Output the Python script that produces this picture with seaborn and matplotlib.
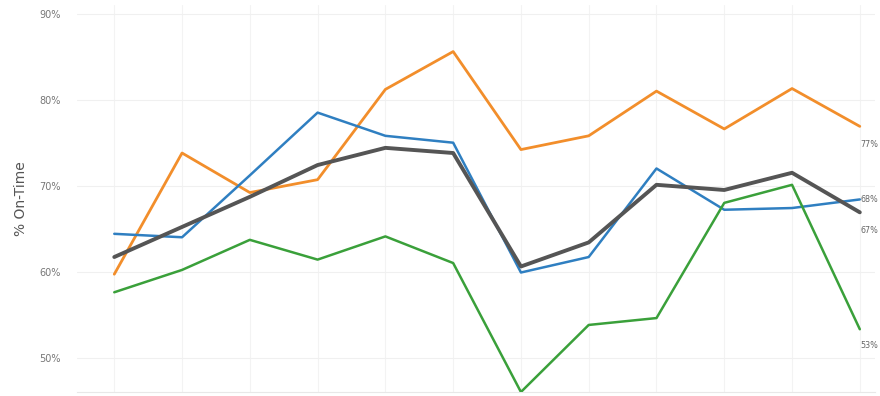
import matplotlib
matplotlib.use("Agg")
import matplotlib.pyplot as plt
import seaborn as sns
import pandas as pd

months = ["Jan", "Feb", "Mar", "Apr", "May", "Jun", "Jul", "Aug", "Sep", "Oct", "Nov", "Dec"]
orange_vals = [59.7, 73.8, 69.2, 70.7, 81.2, 85.6, 74.2, 75.8, 81.0, 76.6, 81.3, 76.9]
blue_vals = [64.4, 64.0, 71.2, 78.5, 75.8, 75.0, 59.9, 61.7, 72.0, 67.2, 67.4, 68.4]
gray_vals = [61.7, 65.2, 68.7, 72.4, 74.4, 73.8, 60.6, 63.4, 70.1, 69.5, 71.5, 66.9]
green_vals = [57.6, 60.2, 63.7, 61.4, 64.1, 61.0, 46.0, 53.8, 54.6, 68.0, 70.1, 53.3]
series_names = ["Carrier A", "Carrier B", "All Carriers", "Carrier C"]
end_labels = ["77%", "68%", "67%", "53%"]
colors = ["#f28e2b", "#2f7fc1", "#555555", "#3aa03a"]

rows = []
for name, vals in zip(series_names, [orange_vals, blue_vals, gray_vals, green_vals]):
    for i, v in enumerate(vals):
        rows.append({"month_idx": i, "month": months[i], "value": v, "series": name})
df = pd.DataFrame(rows)

sns.set_theme(style="white")
plt.rcParams['font.family'] = ['DejaVu Sans']

fig = plt.figure(figsize=(8.8, 3.96), dpi=100)
ax = fig.add_axes([0.0875, 0.0101, 0.9065, 0.9769])

for xi in range(len(months)):
    ax.axvline(xi, color="#f3f3f3", lw=0.8, zorder=0)
for yv in [50, 60, 70, 80, 90]:
    ax.axhline(yv, color="#f0f0f0", lw=0.8, zorder=0)

widths = {"Carrier A": 2.0, "Carrier B": 1.8, "All Carriers": 2.8, "Carrier C": 1.8}
for name, col in zip(series_names, colors):
    sub = df[df["series"] == name]
    sns.lineplot(data=sub, x="month_idx", y="value", color=col, lw=widths[name], ax=ax, legend=False, zorder=3)

offsets = [-13, 0, -13, -12]
for name, lab, off in zip(series_names, end_labels, offsets):
    sub = df[df["series"] == name]
    last = sub.iloc[-1]
    ax.annotate(lab, xy=(last["month_idx"], last["value"]), xytext=(0.5, off), textcoords="offset points",
                fontsize=5.8, color="#666666", va="center", ha="left", annotation_clip=False)

ax.set_xlim(-0.55, 11.22)
ax.set_ylim(46, 91)
ax.set_yticks([50, 60, 70, 80, 90])
ax.set_yticklabels(["50%", "60%", "70%", "80%", "90%"], fontsize=7, color="#777777")
ax.tick_params(axis="y", length=0, pad=12)
ax.set_xticks([])
ax.set_xlabel("")
ax.set_ylabel("% On-Time", fontsize=10, color="#555555", labelpad=8)
for s in ["top", "right", "left"]:
    ax.spines[s].set_visible(False)
ax.spines["bottom"].set_color("#e8e8e8")
ax.spines["bottom"].set_linewidth(0.8)

fig.savefig("out.png", dpi=100)
